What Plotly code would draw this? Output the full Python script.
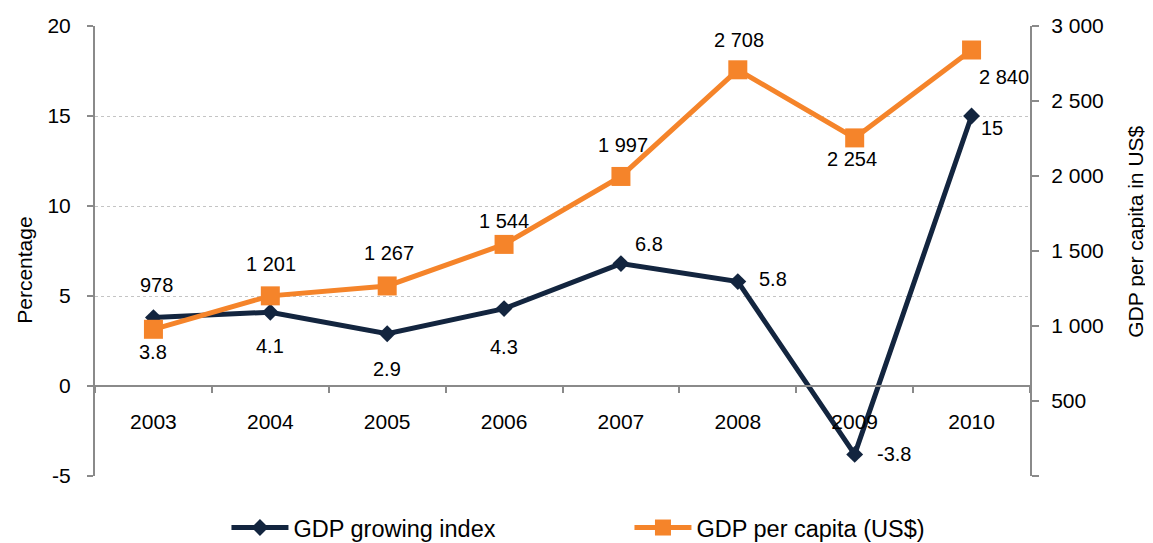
import plotly.graph_objects as go

years = ["2003", "2004", "2005", "2006", "2007", "2008", "2009", "2010"]
growth = [3.8, 4.1, 2.9, 4.3, 6.8, 5.8, -3.8, 15]
per_capita = [978, 1201, 1267, 1544, 1997, 2708, 2254, 2840]
growth_labels = ["3.8", "4.1", "2.9", "4.3", "6.8", "5.8", "-3.8", "15"]
per_capita_labels = ["978", "1 201", "1 267", "1 544", "1 997", "2 708", "2 254", "2 840"]

left_ticks = [-5, 0, 5, 10, 15, 20]
left_tick_text = ["-5", "0", "5", "10", "15", "20"]
right_ticks = [0, 500, 1000, 1500, 2000, 2500, 3000]
right_tick_text = ["", "500", "1 000", "1 500", "2 000", "2 500", "3 000"]

NAVY = "#13253F"
ORANGE = "#F5842A"
AXIS = "#8a8a8a"
FONT = "Liberation Sans, Arial, Helvetica, sans-serif"

# label offsets (pixels) - styling only
growth_shift = [(0, -34), (0, -34), (0, -35), (0, -38), (28, 20), (35, 3), (39, 0), (20, -12)]
pc_shift = [(3, 44), (1, 32), (2, 33), (0, 23), (2, 31), (1, 30), (-3, -21), (32, -27)]

fig = go.Figure()
fig.add_trace(go.Scatter(
    x=years, y=growth, name="GDP growing index", mode="lines+markers",
    line=dict(color=NAVY, width=5), marker=dict(symbol="diamond", size=13, color=NAVY),
    yaxis="y", xaxis="x",
))
fig.add_trace(go.Scatter(
    x=years, y=per_capita, name="GDP per capita (US$)", mode="lines+markers",
    line=dict(color=ORANGE, width=5), marker=dict(symbol="square", size=19, color=ORANGE),
    yaxis="y2", xaxis="x",
))

annotations = []
for i, (yv, t, (dx, dy)) in enumerate(zip(growth, growth_labels, growth_shift)):
    annotations.append(dict(x=i, y=yv, xref="x", yref="y", text=t, showarrow=False,
                            xshift=dx, yshift=dy, font=dict(size=20, color="#000", family=FONT)))
for i, (yv, t, (dx, dy)) in enumerate(zip(per_capita, per_capita_labels, pc_shift)):
    annotations.append(dict(x=i, y=yv, xref="x", yref="y2", text=t, showarrow=False,
                            xshift=dx, yshift=dy, font=dict(size=20, color="#000", family=FONT)))

# axis titles
annotations.append(dict(x=-0.075, y=0.458, xref="paper", yref="paper", text="Percentage",
                        textangle=-90, showarrow=False, xanchor="center", yanchor="middle",
                        font=dict(size=21, color="#000", family=FONT)))
annotations.append(dict(x=1.112, y=0.542, xref="paper", yref="paper", text="GDP per capita in US$",
                        textangle=-90, showarrow=False, xanchor="center", yanchor="middle",
                        font=dict(size=21, color="#000", family=FONT)))

fig.update_layout(
    width=1145, height=535,
    margin=dict(l=87, r=123, t=18, b=67, autoexpand=False),
    paper_bgcolor="white", plot_bgcolor="white",
    font=dict(family=FONT, size=20, color="#000"),
    showlegend=True,
    legend=dict(orientation="h", x=0.1406, xanchor="left", y=-0.115, yanchor="middle",
                font=dict(size=23.5, color="#000", family=FONT), itemwidth=57,
                entrywidth=331, entrywidthmode="pixels", bgcolor="rgba(0,0,0,0)"),
    xaxis=dict(
        type="category", range=[-0.5, 7.5], anchor="free", position=0.2,
        showline=True, linecolor=AXIS, linewidth=2,
        ticks="outside", tickson="boundaries", ticklen=6, tickcolor=AXIS, tickwidth=2,
        ticklabelstandoff=17, showgrid=False, zeroline=False,
        tickfont=dict(size=21, color="#000"),
    ),
    yaxis=dict(
        range=[-5, 20], tickvals=left_ticks, ticktext=left_tick_text,
        showline=True, linecolor=AXIS, linewidth=2,
        ticks="outside", ticklen=6, tickcolor=AXIS, tickwidth=2, ticklabelstandoff=12,
        showgrid=True, gridcolor="#c4c4c4", griddash="dot", gridwidth=1, zeroline=False,
        tickfont=dict(size=21, color="#000"),
    ),
    yaxis2=dict(
        range=[0, 3000], tickvals=right_ticks, ticktext=right_tick_text,
        overlaying="y", side="right", anchor="x",
        showline=True, linecolor=AXIS, linewidth=2,
        ticks="outside", ticklen=7, tickcolor=AXIS, tickwidth=2, ticklabelstandoff=8,
        showgrid=False, zeroline=False,
        tickfont=dict(size=21, color="#000"),
    ),
    annotations=annotations,
)

fig.write_html("out.html")
